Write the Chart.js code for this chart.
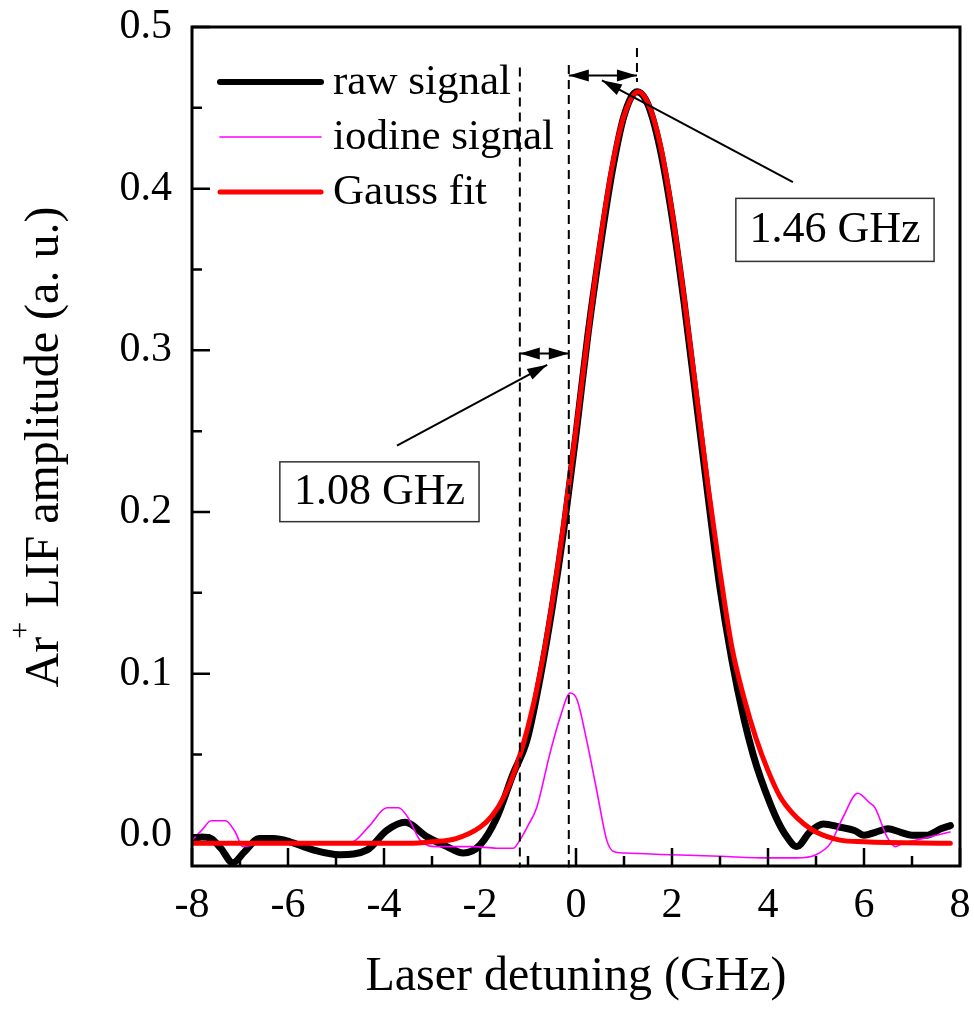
<!DOCTYPE html>
<html>
<head>
<meta charset="utf-8">
<script src="https://cdn.jsdelivr.net/npm/chart.js@4"></script>
<style>
  body { margin: 0; background: #fff; }
  #wrap { width: 974px; height: 1009px; position: relative; }
</style>
</head>
<body>
<div id="wrap"><canvas id="chart"></canvas></div>
<script>
// ---- data (x in GHz, y in a.u.) ----
const rawX = [-8.0, -7.8, -7.6, -7.4, -7.15, -6.9, -6.6, -6.3, -5.96, -5.48, -4.92, -4.35, -3.94, -3.56, -3.1, -2.69, -2.35, -2.0, -1.65, -1.31, -1.02, -0.75, -0.5, -0.25, 0, 0.25, 0.5, 0.75, 1.0, 1.27, 1.5, 1.75, 2.0, 2.25, 2.5, 2.75, 3.0, 3.25, 3.5, 3.69, 3.85, 4.04, 4.2, 4.35, 4.6, 4.87, 5.15, 5.5, 5.8, 6.0, 6.25, 6.5, 6.75, 7.0, 7.3, 7.6, 7.8];
const rawY = [-0.003, -0.001, -0.002, -0.008, -0.017, -0.010, -0.002, -0.002, -0.004, -0.009, -0.012, -0.009, 0.003, 0.008, -0.001, -0.007, -0.011, -0.006, 0.011, 0.038, 0.059, 0.097, 0.140, 0.190, 0.248, 0.310, 0.363, 0.410, 0.445, 0.460, 0.452, 0.425, 0.383, 0.330, 0.270, 0.210, 0.153, 0.108, 0.072, 0.050, 0.035, 0.020, 0.009, 0.001, -0.007, 0.002, 0.007, 0.005, 0.003, 0.000, 0.002, 0.004, 0.002, 0.000, 0.000, 0.004, 0.006];

const iodineX = [-8.0, -7.8, -7.6, -7.3, -7.1, -6.94, -6.6, -6.0, -5.5, -5.0, -4.65, -4.3, -3.94, -3.7, -3.5, -3.25, -2.9, -2.5, -2.15, -1.65, -1.31, -1.17, -1.0, -0.82, -0.54, -0.33, -0.12, 0.02, 0.22, 0.43, 0.64, 0.78, 1.0, 2.0, 3.0, 4.0, 4.6, 5.0, 5.3, 5.56, 5.87, 6.12, 6.23, 6.48, 6.65, 6.81, 7.23, 7.79];
const iodineY = [-0.003, 0.003, 0.009, 0.009, 0.002, -0.007, -0.005, -0.004, -0.004, -0.005, -0.004, 0.006, 0.017, 0.017, 0.011, -0.003, -0.007, -0.007, -0.007, -0.008, -0.008, -0.003, 0.006, 0.017, 0.051, 0.073, 0.088, 0.084, 0.059, 0.028, -0.003, -0.010, -0.011, -0.012, -0.013, -0.014, -0.014, -0.012, -0.005, 0.011, 0.026, 0.020, 0.017, -0.001, -0.007, -0.005, -0.002, 0.002];

const gaussX = [-8.0, -5.0, -4.0, -3.5, -3.0, -2.5, -2.0, -1.75, -1.5, -1.25, -1.0, -0.75, -0.5, -0.25, 0, 0.25, 0.5, 0.75, 1.0, 1.3, 1.5, 1.75, 2.0, 2.25, 2.5, 2.75, 3.0, 3.25, 3.5, 3.75, 4.0, 4.25, 4.5, 4.75, 5.0, 5.5, 6.0, 7.8];
const gaussY = [-0.005, -0.005, -0.005, -0.005, -0.004, -0.002, 0.005, 0.012, 0.024, 0.042, 0.067, 0.100, 0.143, 0.194, 0.251, 0.310, 0.366, 0.413, 0.445, 0.460, 0.453, 0.428, 0.386, 0.333, 0.275, 0.216, 0.163, 0.116, 0.085, 0.060, 0.040, 0.024, 0.014, 0.007, 0.002, -0.003, -0.004, -0.005];

const seriesNames = ['raw signal', 'iodine signal', 'Gauss fit'];
const xTicks = [-8, -6, -4, -2, 0, 2, 4, 6, 8];
const xMinorTicks = [-7, -5, -3, -1, 1, 3, 5, 7];
const yTicks = [0.0, 0.1, 0.2, 0.3, 0.4, 0.5];
const yMinorTicks = [0.05, 0.15, 0.25, 0.35, 0.45];

// annotations, in data units
const markerLines = [
  { x: -1.17, from: 0.475, to: -0.02 },
  { x: -0.15, from: 0.4765, to: -0.02 },
  { x: 1.27, from: 0.487, to: 0.466 },
];
const spanArrows = [
  { x1: -1.17, x2: -0.15, y: 0.298 },
  { x1: -0.15, x2: 1.27, y: 0.470 },
];
const pointers = [
  { x1: -3.73, y1: 0.241, x2: -0.60, y2: 0.291 },
  { x1: 4.52, y1: 0.404, x2: 0.54, y2: 0.467 },
];
const labelBoxes = [
  { text: '1.08 GHz', x1: -6.17, x2: -2.02, y1: 0.231, y2: 0.194 },
  { text: '1.46 GHz', x1: 3.33, x2: 7.46, y1: 0.394, y2: 0.355 },
];

const SERIF = '"Liberation Serif", "Times New Roman", serif';

function pts(xs, ys) {
  return xs.map((x, i) => ({ x, y: ys[i] }));
}

function head(ctx, x1, y1, x2, y2, len, half) {
  const a = Math.atan2(y2 - y1, x2 - x1);
  ctx.beginPath();
  ctx.moveTo(x2, y2);
  ctx.lineTo(x2 - len * Math.cos(a) + half * Math.sin(a), y2 - len * Math.sin(a) - half * Math.cos(a));
  ctx.lineTo(x2 - len * Math.cos(a) - half * Math.sin(a), y2 - len * Math.sin(a) + half * Math.cos(a));
  ctx.closePath();
  ctx.fill();
}

function noPad(s) {
  s.paddingLeft = 0; s.paddingRight = 0; s.paddingTop = 0; s.paddingBottom = 0;
}

const decor = {
  id: 'decor',
  afterDatasetsDraw(chart) {
    const { ctx, chartArea: a, scales: { x, y } } = chart;
    ctx.save();
    ctx.strokeStyle = '#000';
    ctx.fillStyle = '#000';

    // frame
    ctx.lineWidth = 3;
    ctx.strokeRect(a.left, a.top, a.right - a.left, a.bottom - a.top);

    // inward ticks
    ctx.lineWidth = 2.5;
    ctx.beginPath();
    xTicks.forEach(v => { const p = x.getPixelForValue(v); ctx.moveTo(p, a.bottom); ctx.lineTo(p, a.bottom - 18); });
    xMinorTicks.forEach(v => { const p = x.getPixelForValue(v); ctx.moveTo(p, a.bottom); ctx.lineTo(p, a.bottom - 10); });
    yTicks.forEach(v => { const p = y.getPixelForValue(v); ctx.moveTo(a.left, p); ctx.lineTo(a.left + 18, p); });
    yMinorTicks.forEach(v => { const p = y.getPixelForValue(v); ctx.moveTo(a.left, p); ctx.lineTo(a.left + 10, p); });
    ctx.stroke();

    // dashed marker lines
    ctx.lineWidth = 2;
    ctx.setLineDash([9, 6]);
    markerLines.forEach(m => {
      const px = x.getPixelForValue(m.x);
      ctx.beginPath();
      ctx.moveTo(px, y.getPixelForValue(m.from));
      ctx.lineTo(px, y.getPixelForValue(m.to));
      ctx.stroke();
    });
    ctx.setLineDash([]);

    // double-headed span arrows
    spanArrows.forEach(s => {
      const p1 = x.getPixelForValue(s.x1), p2 = x.getPixelForValue(s.x2), py = y.getPixelForValue(s.y);
      const mid = (p1 + p2) / 2;
      ctx.lineWidth = 2;
      ctx.beginPath();
      ctx.moveTo(p1, py);
      ctx.lineTo(p2, py);
      ctx.stroke();
      head(ctx, mid, py, p1, py, 20, 6);
      head(ctx, mid, py, p2, py, 20, 6);
    });

    // pointer arrows
    pointers.forEach(p => {
      const x1 = x.getPixelForValue(p.x1), y1 = y.getPixelForValue(p.y1);
      const x2 = x.getPixelForValue(p.x2), y2 = y.getPixelForValue(p.y2);
      ctx.lineWidth = 2;
      ctx.beginPath();
      ctx.moveTo(x1, y1);
      ctx.lineTo(x2, y2);
      ctx.stroke();
      head(ctx, x1, y1, x2, y2, 20, 6);
    });

    // value boxes
    labelBoxes.forEach(b => {
      const l = x.getPixelForValue(b.x1), r = x.getPixelForValue(b.x2);
      const t = y.getPixelForValue(b.y1), btm = y.getPixelForValue(b.y2);
      ctx.fillStyle = '#fff';
      ctx.fillRect(l, t, r - l, btm - t);
      ctx.strokeStyle = '#333';
      ctx.lineWidth = 1.5;
      ctx.strokeRect(l, t, r - l, btm - t);
      ctx.fillStyle = '#000';
      ctx.font = '44px ' + SERIF;
      ctx.textAlign = 'center';
      ctx.textBaseline = 'middle';
      ctx.fillText(b.text, (l + r) / 2, (t + btm) / 2 + 1);
    });

    // legend
    ctx.textAlign = 'left';
    ctx.textBaseline = 'middle';
    ctx.font = '43px ' + SERIF;
    chart.data.datasets.forEach((ds, i) => {
      const ly = 82 + i * 55;
      ctx.strokeStyle = ds.borderColor;
      ctx.lineWidth = ds.legendWidth;
      ctx.lineCap = 'round';
      ctx.beginPath();
      ctx.moveTo(220, ly);
      ctx.lineTo(321, ly);
      ctx.stroke();
      ctx.fillStyle = '#000';
      ctx.fillText(ds.label, 333, ly + 1);
    });

    // y axis title with superscript
    ctx.translate(58, 447);
    ctx.rotate(-Math.PI / 2);
    ctx.fillStyle = '#000';
    ctx.textBaseline = 'alphabetic';
    const big = '48px ' + SERIF, small = '30px ' + SERIF;
    ctx.font = big;
    const w1 = ctx.measureText('Ar').width;
    const w3 = ctx.measureText(' LIF amplitude (a. u.)').width;
    ctx.font = small;
    const w2 = ctx.measureText('+').width;
    let cx = -(w1 + w2 + w3) / 2;
    ctx.font = big;
    ctx.fillText('Ar', cx, 0);
    cx += w1;
    ctx.font = small;
    ctx.fillText('+', cx - 2, -29);
    cx += w2;
    ctx.font = big;
    ctx.fillText(' LIF amplitude (a. u.)', cx, 0);
    ctx.restore();
  }
};

new Chart(document.getElementById('chart'), {
  type: 'line',
  data: {
    datasets: [
      { label: seriesNames[0], data: pts(rawX, rawY), borderColor: '#000', borderWidth: 7, legendWidth: 6, cubicInterpolationMode: 'monotone', order: 3 },
      { label: seriesNames[1], data: pts(iodineX, iodineY), borderColor: '#ff00ff', borderWidth: 1.6, legendWidth: 1.6, cubicInterpolationMode: 'monotone', order: 2 },
      { label: seriesNames[2], data: pts(gaussX, gaussY), borderColor: '#ff0000', borderWidth: 5, legendWidth: 5, cubicInterpolationMode: 'monotone', order: 1 },
    ],
  },
  options: {
    responsive: true,
    maintainAspectRatio: false,
    animation: false,
    events: [],
    layout: { padding: { left: 0, top: 27, right: 14, bottom: 0 } },
    elements: { point: { radius: 0 }, line: { borderCapStyle: 'round', borderJoinStyle: 'round' } },
    plugins: { legend: { display: false }, tooltip: { enabled: false } },
    scales: {
      x: {
        type: 'linear',
        min: -8,
        max: 8,
        afterBuildTicks: s => { s.ticks = xTicks.map(v => ({ value: v })); },
        afterFit: s => { s.height = 1009 - 866; noPad(s); },
        grid: { display: false, drawTicks: false, tickLength: 0 },
        border: { display: false },
        ticks: {
          autoSkip: false, maxRotation: 0, padding: 15, color: '#000',
          font: { family: SERIF, size: 42 },
          callback: v => String(v),
        },
        title: {
          display: true, text: 'Laser detuning (GHz)', color: '#000',
          font: { family: SERIF, size: 48 }, padding: { top: 0, bottom: 3 },
        },
      },
      y: {
        type: 'linear',
        min: -0.019,
        max: 0.5,
        afterBuildTicks: s => { s.ticks = yTicks.map(v => ({ value: v })); },
        afterFit: s => { s.width = 192; noPad(s); },
        grid: { display: false, drawTicks: false, tickLength: 0 },
        border: { display: false },
        ticks: {
          autoSkip: false, padding: 20, color: '#000',
          font: { family: SERIF, size: 42 },
          callback: v => Number(v).toFixed(1),
        },
      },
    },
  },
  plugins: [decor],
});
</script>
</body>
</html>
